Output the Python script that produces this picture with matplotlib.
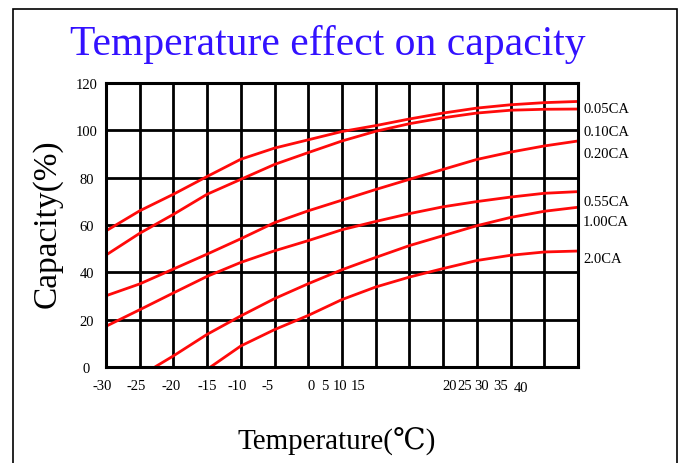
import numpy as np
import matplotlib
matplotlib.use('Agg')
import matplotlib.pyplot as plt
from matplotlib.patches import Rectangle
from matplotlib.transforms import blended_transform_factory

############################### Data ######################################
# the chart is drawn on 14 equal grid cells, the temperature labels are not linear
columns = list(range(15))

rate_names = ['0.05CA', '0.10CA', '0.20CA', '0.55CA', '1.00CA', '2.0CA']

cap_005 = [57.5, 66, 73, 80.5, 87.8, 92.5, 96, 99.5, 102, 104.8, 107.3, 109.4, 110.8, 111.7, 112.2]
cap_010 = [47.3, 56.5, 64.5, 73, 79.3, 85.6, 90.6, 95.5, 99.6, 102.8, 105.3, 107.3, 108.5, 108.9, 109]
cap_020 = [30.1, 35.1, 41.4, 47.7, 54.2, 61, 66, 70.5, 75, 79.3, 83.5, 87.7, 90.8, 93.4, 95.5]
cap_055 = [17.2, 24.2, 31.3, 38.3, 44.2, 49.1, 53.4, 58, 61.5, 64.8, 67.7, 69.9, 71.8, 73.4, 74.1]
# these two start inside the chart (at zero capacity)
start_100 = 1.45
cap_100 = [0, 4.7, 13.8, 21.6, 28.9, 35.2, 41.1, 46.3, 51.3, 55.5, 59.7, 63.2, 65.8, 67.5]
start_200 = 3.1
cap_200 = [0, 8.9, 15.8, 21.8, 28.5, 33.8, 38, 41.6, 45, 47.2, 48.6, 49]

# labels at the right end of every curve
label_y = [109.2, 99.7, 90.4, 69.9, 61.4, 45.8]

temp_labels = ['-30', '-25', '-20', '-15', '-10', '-5', '0', '5', '10', '15',
               '20', '25', '30', '35', '40']
temp_label_pos = [-0.12, 0.89, 1.93, 3.0, 3.9, 4.8, 6.08, 6.5, 6.94, 7.47,
                  10.2, 10.65, 11.15, 11.7, 12.3]

cap_ticks = [0, 20, 40, 60, 80, 100, 120]

############################### Plot ######################################
plt.rcParams['font.family'] = ['Liberation Serif', 'DejaVu Serif']

fig = plt.figure(figsize=(6.82, 4.64), dpi=100)
ax = fig.add_axes([106 / 682, 1 - 368 / 464, 472 / 682, 284 / 464])

curves_x = [columns, columns, columns, columns,
            [start_100] + columns[2:], [start_200] + columns[4:]]
curves_y = [cap_005, cap_010, cap_020, cap_055, cap_100, cap_200]
for xs, ys in zip(curves_x, curves_y):
    ax.plot(xs, ys, color='#ff0a0a', lw=2.0, solid_capstyle='butt', zorder=3)

ax.set_xlim(0, 14)
ax.set_ylim(0, 120)
ax.set_xticks(columns)
ax.set_xticklabels([])
ax.set_yticks(cap_ticks)
ax.set_yticklabels([str(v) for v in cap_ticks], fontsize=10.5)
for lab in ax.get_yticklabels():
    lab.set_ha('center')
ax.tick_params(axis='both', length=0)
ax.tick_params(axis='y', pad=14)
ax.grid(True, color='black', lw=2.0, zorder=1)
ax.set_axisbelow(True)
for sp in ax.spines.values():
    sp.set_linewidth(2.2)
    sp.set_zorder(4)

# nonlinear temperature labels under the grid
trans = blended_transform_factory(ax.transData, ax.transAxes)
for lab, pos in zip(temp_labels, temp_label_pos):
    yy = -0.073 if lab == '40' else -0.064
    ax.text(pos, yy, lab, transform=trans, ha='center', va='center', fontsize=10.5)

# curve names
for name, yv in zip(rate_names, label_y):
    ax.text(14.15, yv, name, ha='left', va='center', fontsize=10.5, clip_on=False)

fig.text(328 / 682, 1 - 55 / 464, 'Temperature effect on capacity', color='#3311ff',
         fontsize=30, ha='center', va='baseline')
fig.text(337 / 682, 1 - 450 / 464, 'Temperature(℃)', fontsize=21,
         ha='center', va='baseline')
fig.text(47 / 682, 1 - 224 / 464, 'Capacity(%)', fontsize=24, rotation=90,
         ha='center', va='center')

# frame around the whole picture
fig.patches.append(Rectangle((13 / 682, -0.05), 664 / 682, 1 - 9.5 / 464 + 0.05,
                             transform=fig.transFigure, fill=False,
                             edgecolor='black', lw=1.2))

fig.savefig('out.png', dpi=100)
